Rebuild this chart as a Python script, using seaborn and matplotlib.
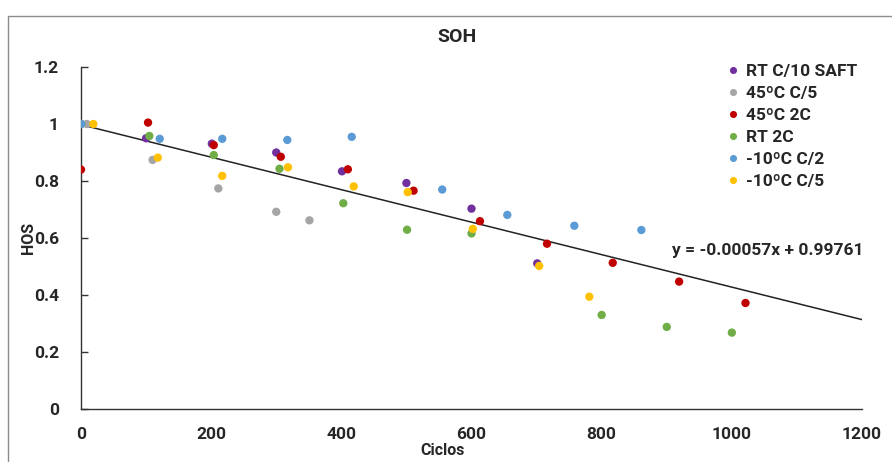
import matplotlib
matplotlib.use("Agg")
import matplotlib.pyplot as plt
import seaborn as sns
import pandas as pd
import numpy as np
from matplotlib.patches import Rectangle

# ---- data ----
series_names = ["RT C/10 SAFT", "45ºC C/5", "45ºC 2C", "RT 2C", "-10ºC C/2", "-10ºC C/5"]
colors = ["#7030A0", "#A5A5A5", "#C00000", "#70AD47", "#5B9BD5", "#FFC000"]

rt_c10_x = [0, 100, 201, 300, 401, 500, 600, 701]
rt_c10_y = [1.0, 0.95, 0.931, 0.90, 0.834, 0.793, 0.703, 0.511]

t45_c5_x = [9, 110, 211, 300, 351]
t45_c5_y = [1.0, 0.874, 0.774, 0.692, 0.662]

t45_2c_x = [0, 103, 204, 307, 410, 511, 613, 716, 817, 919, 1021]
t45_2c_y = [0.84, 1.005, 0.926, 0.885, 0.841, 0.766, 0.659, 0.580, 0.513, 0.447, 0.372]

rt_2c_x = [0, 105, 204, 305, 403, 501, 600, 800, 900, 1000]
rt_2c_y = [1.0, 0.958, 0.891, 0.843, 0.722, 0.629, 0.616, 0.330, 0.288, 0.268]

m10_c2_x = [0, 121, 217, 317, 416, 555, 655, 758, 861]
m10_c2_y = [1.0, 0.948, 0.948, 0.944, 0.955, 0.770, 0.681, 0.643, 0.628]

m10_c5_x = [19, 118, 217, 318, 419, 502, 602, 704, 781]
m10_c5_y = [1.0, 0.882, 0.818, 0.848, 0.781, 0.761, 0.632, 0.502, 0.394]

trend_slope = -0.00057
trend_intercept = 0.99761
trend_x_range = [0, 1200]

x_ticks = [0, 200, 400, 600, 800, 1000, 1200]
y_ticks = [0, 0.2, 0.4, 0.6, 0.8, 1.0, 1.2]
y_tick_labels = ["0", "0.2", "0.4", "0.6", "0.8", "1", "1.2"]

# ---- build frame ----
xs = [rt_c10_x, t45_c5_x, t45_2c_x, rt_2c_x, m10_c2_x, m10_c5_x]
ys = [rt_c10_y, t45_c5_y, t45_2c_y, rt_2c_y, m10_c2_y, m10_c5_y]
rows = []
for name, xv, yv in zip(series_names, xs, ys):
    for a, b in zip(xv, yv):
        rows.append({"Ciclos": a, "HOS": b, "serie": name})
df = pd.DataFrame(rows)

trend_df = pd.DataFrame({"x": trend_x_range,
                         "y": [trend_slope * v + trend_intercept for v in trend_x_range]})

sns.set_style("white")
plt.rcParams["font.family"] = ["Roboto", "DejaVu Sans"]

fig = plt.figure(figsize=(8.92, 4.62), dpi=100)
ax = fig.add_axes([81 / 892, 1 - 409 / 462, (862 - 81) / 892, (409 - 67) / 462])

sns.lineplot(data=trend_df, x="x", y="y", ax=ax, color="#222222", linewidth=1.1, zorder=1)
sns.scatterplot(data=df, x="Ciclos", y="HOS", hue="serie", hue_order=series_names,
                palette=colors, s=36, edgecolor="none", ax=ax, zorder=3, legend=True)

ax.set_xlim(0, 1200)
ax.set_ylim(0, 1.2)
ax.set_xticks(x_ticks)
ax.set_xticklabels([str(t) for t in x_ticks], fontsize=12.5, fontweight="bold")
ax.set_yticks(y_ticks)
ax.set_yticklabels(y_tick_labels, fontsize=12.5, fontweight="bold")
ax.tick_params(axis="x", length=0, pad=13)
ax.tick_params(axis="y", direction="in", length=5, width=1, color="#333333", pad=16, left=True)
for side in ["top", "right"]:
    ax.spines[side].set_visible(False)
for side in ["left", "bottom"]:
    ax.spines[side].set_color("#333333")
    ax.spines[side].set_linewidth(1)

ax.set_xlabel("Ciclos", fontsize=11.5, fontweight="bold")
ax.set_ylabel("HOS", fontsize=11.5, fontweight="bold")
ax.xaxis.set_label_coords(0.463, -0.1)
ax.yaxis.set_label_coords(-0.058, 0.5)
fig.text(457 / 892, 1 - 37 / 462, "SOH", fontsize=14, fontweight="bold", ha="center", va="center")

ax.text(672 / 892, 1 - 251 / 462, "y = -0.00057x + 0.99761", transform=fig.transFigure,
        fontsize=12.5, fontweight="bold", va="center", ha="left")

handles, labels = ax.get_legend_handles_labels()
leg = ax.legend(handles, labels, loc="upper left", bbox_to_anchor=(716 / 892, 1 - 55 / 462),
                bbox_transform=fig.transFigure, frameon=False,
                prop={"weight": "bold", "size": 12.5}, handletextpad=0.2, labelspacing=0.4,
                markerscale=0.85, handlelength=1.0, borderpad=0)

fig.patches.append(Rectangle((8 / 892, -0.1), 1.2, 1 - 16 / 462 + 0.1, transform=fig.transFigure,
                             fill=False, edgecolor="#8c8c8c", linewidth=1))

fig.savefig("out.png", dpi=100)
